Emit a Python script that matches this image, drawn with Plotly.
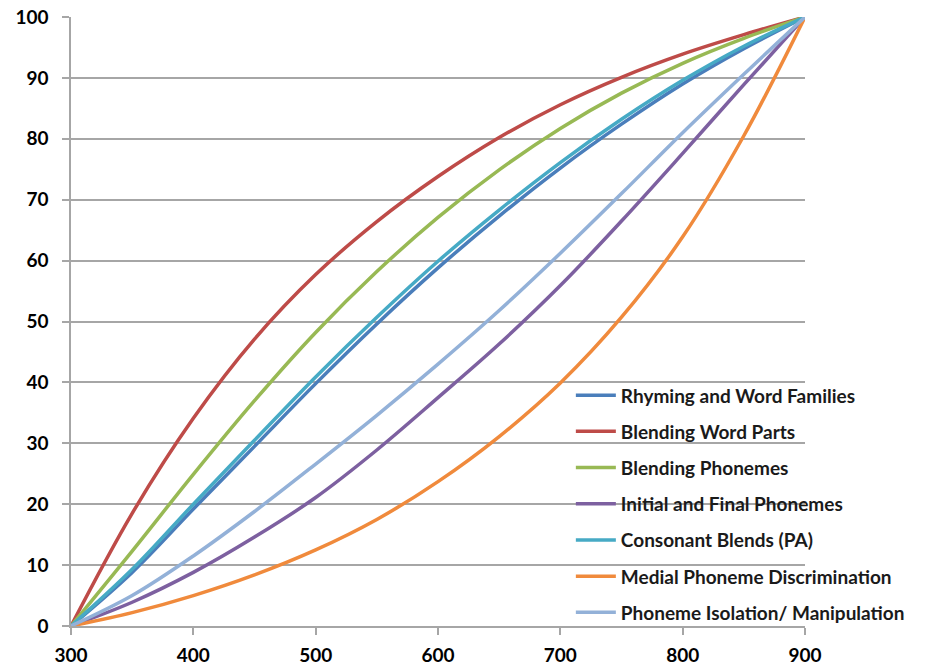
import plotly.graph_objects as go

# Scale scores on the x axis, cumulative percent on the y axis
scores = [300, 350, 400, 450, 500, 550, 600, 650, 700, 750, 800, 850, 900]

rhyming = [0, 8.8, 19.2, 29.5, 39.8, 49.6, 58.8, 67.3, 75.2, 82.4, 89.0, 94.8, 100]
blending_word_parts = [0, 18.5, 34.1, 47.1, 57.7, 66.4, 73.8, 80.2, 85.6, 90.1, 93.9, 97.1, 100]
blending_phonemes = [0, 12.3, 24.9, 37.0, 48.2, 58.2, 67.1, 74.9, 81.7, 87.5, 92.4, 96.5, 100]
initial_final = [0, 3.9, 8.8, 14.6, 21.1, 28.9, 37.5, 46.3, 55.9, 66.5, 77.6, 88.9, 100]
consonant_blends = [0, 9.3, 20.0, 30.5, 40.9, 50.7, 59.9, 68.3, 76.1, 83.2, 89.6, 95.2, 100]
medial_phoneme = [0, 2.2, 5.0, 8.4, 12.5, 17.5, 23.7, 31.1, 39.9, 50.7, 63.9, 80.5, 100]
phoneme_isolation = [0, 5.0, 11.5, 18.8, 26.6, 34.6, 43.0, 51.8, 61.2, 71.0, 81.0, 90.6, 100]

series = [
    ("Rhyming and Word Families", rhyming, "#4A7EBB"),
    ("Blending Word Parts", blending_word_parts, "#BE4B48"),
    ("Blending Phonemes", blending_phonemes, "#98B954"),
    ("Initial and Final Phonemes", initial_final, "#7D60A0"),
    ("Consonant Blends (PA)", consonant_blends, "#46AAC5"),
    ("Medial Phoneme Discrimination", medial_phoneme, "#F08A3C"),
    ("Phoneme Isolation/ Manipulation", phoneme_isolation, "#93B1D8"),
]

x_ticks = [300, 400, 500, 600, 700, 800, 900]
y_ticks = [0, 10, 20, 30, 40, 50, 60, 70, 80, 90, 100]

fig = go.Figure()
for i, (name, values, color) in enumerate(series):
    fig.add_trace(go.Scatter(
        x=scores, y=values, name=name, mode="lines",
        line=dict(color=color, width=3.5, shape="spline", smoothing=1.0),
        legendgroup=f"g{i}",
    ))

grid = "#A6A6A6"
fig.update_layout(
    width=925, height=671,
    margin=dict(l=71, r=120, t=17, b=45),
    paper_bgcolor="white", plot_bgcolor="white",
    font=dict(family="Lato", color="#000000"),
    legend=dict(
        x=0.681, y=0.41, xanchor="left", yanchor="top",
        bgcolor="rgba(0,0,0,0)",
        font=dict(family="Lato", size=19, color="#1a1a1a", weight="bold"),
        tracegroupgap=8.5,
        itemwidth=40,
    ),
    xaxis=dict(
        range=[300, 900], tickvals=x_ticks, showgrid=False,
        showline=True, linecolor=grid, linewidth=1.5,
        ticks="outside", ticklen=7, tickcolor=grid, tickwidth=1.5,
        tickfont=dict(family="Lato", size=19, weight="bold"),
        ticklabelstandoff=4,
        zeroline=False, automargin=False,
    ),
    yaxis=dict(
        range=[0, 100], tickvals=y_ticks, showgrid=True,
        gridcolor=grid, gridwidth=1.5,
        showline=True, linecolor=grid, linewidth=1.5,
        ticks="outside", ticklen=7, tickcolor=grid, tickwidth=1.5,
        tickfont=dict(family="Lato", size=19, weight="bold"),
        ticklabelstandoff=10,
        zeroline=False, automargin=False,
    ),
)

fig.write_html("out.html")
